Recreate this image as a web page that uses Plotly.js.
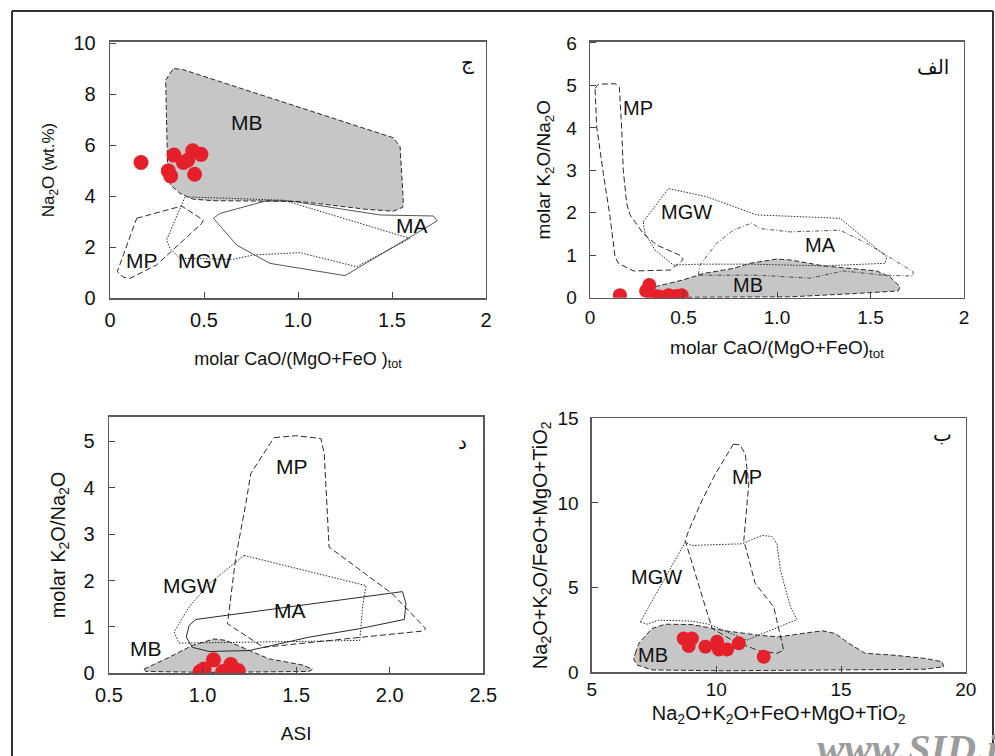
<!DOCTYPE html>
<html>
<head>
<meta charset="utf-8">
<script src="https://cdn.plot.ly/plotly-3.0.1.min.js"></script>
<style>html,body{margin:0;padding:0;background:#fff;}#chart{width:995px;height:756px;}</style>
</head>
<body>
<div id="chart"></div>
<script>
// ---------- Panel ج (top-left): Na2O vs molar CaO/(MgO+FeO)tot ----------
const p1_MB_x = [0.296,0.337,0.386,1.507,1.543,1.56,1.557,1.507,1.365,1.01,0.55,0.443,0.372,0.323,0.307,0.302];
const p1_MB_y = [8.56,9.02,8.98,6.30,5.95,3.85,3.57,3.42,3.49,3.80,3.83,3.89,4.12,4.44,4.90,6.47];
const p1_MP_x = [0.142,0.381,0.496,0.488,0.248,0.106,0.071,0.039];
const p1_MP_y = [3.14,3.62,3.07,2.94,1.31,0.78,0.83,1.05];
const p1_MGW_x = [0.399,0.301,0.319,0.372,0.656,0.761,1.011,1.312,1.596,0.922];
const p1_MGW_y = [3.98,2.29,1.96,1.57,1.53,1.70,1.79,1.24,2.35,3.85];
const p1_MA_x = [0.55,0.585,0.833,0.957,1.436,1.72,1.741,1.25,0.851,0.674];
const p1_MA_y = [3.14,3.33,3.83,3.82,3.27,3.23,3.04,0.89,1.37,2.09];
const p1_pts_x = [0.165,0.34,0.44,0.484,0.39,0.413,0.31,0.323,0.45];
const p1_pts_y = [5.33,5.62,5.79,5.65,5.33,5.42,5.0,4.8,4.87];

// ---------- Panel الف (top-right): molar K2O/Na2O vs molar CaO/(MgO+FeO)tot ----------
const p2_MP_x = [0.027,0.045,0.134,0.157,0.169,0.178,0.196,0.214,0.285,0.357,0.481,0.499,0.464,0.428,0.232,0.152,0.134,0.107,0.071,0.036];
const p2_MP_y = [4.93,5.03,5.04,4.96,4.02,3.0,2.22,1.95,1.51,1.24,1.0,0.90,0.77,0.65,0.63,0.81,0.96,1.91,2.93,4.02];
const p2_MGW_x = [0.285,0.419,0.624,0.891,1.337,1.587,1.578,1.248,0.856,0.588,0.446,0.348,0.294];
const p2_MGW_y = [1.79,2.57,2.38,1.95,1.87,0.96,0.81,0.75,0.79,0.79,0.77,1.12,1.51];
const p2_MA_x = [0.579,0.588,0.677,0.766,0.865,0.909,1.07,1.337,1.48,1.729,1.726,1.568,1.355,1.176,0.891,0.606];
const p2_MA_y = [0.53,0.77,1.28,1.59,1.76,1.63,1.55,1.59,1.28,0.61,0.51,0.53,0.63,0.46,0.53,0.53];
const p2_MB_x = [0.348,0.499,0.606,0.766,0.856,0.998,1.07,1.248,1.533,1.604,1.658,1.649,1.426,1.07,0.535,0.357,0.339];
const p2_MB_y = [0.26,0.42,0.57,0.69,0.81,0.91,0.89,0.75,0.63,0.49,0.26,0.16,0.10,0.02,0.01,0.01,0.14];
const p2_pts_x = [0.16,0.317,0.30,0.34,0.37,0.42,0.46,0.49];
const p2_pts_y = [0.06,0.30,0.16,0.05,0.03,0.06,0.04,0.06];

// ---------- Panel د (bottom-left): molar K2O/Na2O vs ASI ----------
const p3_MP_x = [1.382,1.498,1.632,1.65,1.676,2.015,2.193,2.175,1.855,1.57,1.325,1.133,1.178,1.231,1.258];
const p3_MP_y = [5.08,5.12,5.06,4.74,2.72,1.71,0.96,0.91,0.78,0.67,0.56,1.07,2.51,3.66,4.31];
const p3_MGW_x = [1.222,1.873,1.855,1.84,1.57,1.035,0.874,0.848,0.928,1.035];
const p3_MGW_y = [2.54,1.89,1.43,0.71,0.69,0.67,0.65,0.89,1.43,1.93];
const p3_MA_x = [0.964,2.068,2.087,2.078,1.837,1.57,1.249,1.035,0.945,0.913,0.928];
const p3_MA_y = [1.16,1.76,1.50,1.16,0.96,0.78,0.49,0.47,0.56,0.78,1.03];
const p3_MB_x = [0.687,0.803,0.945,1.061,1.124,1.249,1.356,1.534,1.587,1.57,1.035,0.696];
const p3_MB_y = [0.09,0.31,0.60,0.74,0.71,0.49,0.31,0.18,0.09,0.04,0.02,0.04];
const p3_pts_x = [1.058,0.987,1.008,1.108,1.151,1.156,1.19];
const p3_pts_y = [0.29,0.04,0.09,0.04,0.19,0.04,0.06];

// ---------- Panel ب (bottom-right) ----------
const p4_MP_x = [10.68,10.95,11.16,11.30,11.1,11.56,12.3,12.7,12.43,11.7,10.63,9.83,9.56,8.75,8.89,9.42,9.96];
const p4_MP_y = [13.47,13.43,12.88,11.12,7.78,5.24,3.86,1.31,1.12,1.27,1.90,2.59,3.86,7.78,8.37,10.14,11.71];
const p4_MGW_x = [6.95,8.75,9.02,11.03,11.83,12.23,12.43,12.57,12.97,13.24,11.22,9.69,9.02,7.69,7.22];
const p4_MGW_y = [2.98,7.68,7.49,7.59,8.08,8.02,7.59,6.02,3.86,3.12,1.90,2.84,3.02,3.08,2.84];
const p4_MB_x = [6.75,6.89,7.42,7.95,9.02,10.36,11.7,12.5,13.44,14.24,14.77,15.31,15.97,17.04,18.38,19.05,19.12,18.38,10.36,7.42,6.82,6.68];
const p4_MB_y = [1.12,1.71,2.59,2.84,2.82,2.45,2.19,2.09,2.29,2.45,2.29,1.71,1.12,1.02,0.82,0.62,0.33,0.18,0.09,0.14,0.43,0.78];
const p4_pts_x = [8.69,9.02,8.89,9.56,10.03,10.1,10.43,10.9,11.9];
const p4_pts_y = [2.0,2.0,1.55,1.51,1.80,1.35,1.35,1.71,0.92];

// tick labels
const p1_xtv = [0,0.5,1,1.5,2], p1_xtt = ['0','0.5','1.0','1.5','2'];
const p1_ytv = [0,2,4,6,8,10];
const p2_xtv = [0,0.5,1,1.5,2], p2_xtt = ['0','0.5','1.0','1.5','2'];
const p2_ytv = [0,1,2,3,4,5,6];
const p3_xtv = [0.5,1,1.5,2,2.5], p3_xtt = ['0.5','1.0','1.5','2.0','2.5'];
const p3_ytv = [0,1,2,3,4,5];
const p4_xtv = [5,10,15,20];
const p4_ytv = [0,5,10,15];

const RED = '#e5202a', GREY = '#c6c6c6', LINE = '#2a2a2a';
const FONT = 'Liberation Sans, Arial, sans-serif';

function poly(x, y, ax, dash, fill, width) {
  return {
    type: 'scatter', mode: 'lines',
    x: x.concat([x[0]]), y: y.concat([y[0]]),
    xaxis: 'x' + ax, yaxis: 'y' + ax,
    fill: fill ? 'toself' : 'none', fillcolor: GREY,
    line: {color: LINE, width: width || 1, dash: dash},
    hoverinfo: 'skip', showlegend: false
  };
}
function pts(x, y, ax, size) {
  return {type: 'scatter', mode: 'markers', x: x, y: y, xaxis: 'x' + ax, yaxis: 'y' + ax,
    marker: {color: RED, size: size, line: {width: 0}}, showlegend: false};
}
const DASH_MB = '5px,2.5px', DASH_MP = '6px,3px', DOT = '1.5px,1.5px';

const traces = [
  poly(p1_MB_x, p1_MB_y, '', DASH_MB, true),
  poly(p1_MP_x, p1_MP_y, '', DASH_MP, false),
  poly(p1_MGW_x, p1_MGW_y, '', DOT, false),
  poly(p1_MA_x, p1_MA_y, '', 'solid', false, 0.8),
  pts(p1_pts_x, p1_pts_y, '', 15),

  poly(p2_MB_x, p2_MB_y, '2', DASH_MB, true),
  poly(p2_MP_x, p2_MP_y, '2', DASH_MP, false),
  poly(p2_MGW_x, p2_MGW_y, '2', DOT, false),
  poly(p2_MA_x, p2_MA_y, '2', '4px,2px,1px,2px', false, 0.8),
  pts(p2_pts_x, p2_pts_y, '2', 14),

  poly(p3_MB_x, p3_MB_y, '3', DASH_MB, true),
  poly(p3_MP_x, p3_MP_y, '3', DASH_MP, false),
  poly(p3_MGW_x, p3_MGW_y, '3', DOT, false),
  poly(p3_MA_x, p3_MA_y, '3', 'solid', false, 1),
  pts(p3_pts_x, p3_pts_y, '3', 15),

  poly(p4_MB_x, p4_MB_y, '4', DASH_MB, true),
  poly(p4_MP_x, p4_MP_y, '4', DASH_MP, false),
  poly(p4_MGW_x, p4_MGW_y, '4', DOT, false),
  pts(p4_pts_x, p4_pts_y, '4', 14)
];

const W = 995, H = 756;
function dx(a, b) { return [a / W, b / W]; }
function dy(top, bot) { return [1 - bot / H, 1 - top / H]; }

function axBase(extra) {
  return Object.assign({
    showline: true, mirror: true, linecolor: '#5a5a5a', linewidth: 1.3,
    ticks: 'inside', ticklen: 6, tickcolor: '#444', tickwidth: 1,
    showgrid: false, zeroline: false, fixedrange: true,
    tickfont: {family: FONT, size: 19, color: '#111'}
  }, extra);
}
function ttl(text, size, standoff) {
  return {text: text, font: {family: FONT, size: size, color: '#111'}, standoff: standoff};
}

const layout = {
  width: W, height: H,
  margin: {l: 0, r: 0, t: 0, b: 0},
  paper_bgcolor: '#fff', plot_bgcolor: '#fff',
  showlegend: false,
  xaxis: axBase({domain: dx(110, 486), range: [0, 2], tickmode: 'array', tickvals: p1_xtv, ticktext: p1_xtt, anchor: 'y',
    tickfont: {family: FONT, size: 20, color: '#111'}, ticklabelstandoff: 3,
    title: ttl('molar CaO/(MgO+FeO )<sub>tot</sub>', 18, 22)}),
  yaxis: axBase({domain: dy(41.7, 298.3), range: [0, 10.07], tickmode: 'array', tickvals: p1_ytv, anchor: 'x',
    tickfont: {family: FONT, size: 20, color: '#111'}, ticklabelstandoff: 9,
    title: ttl('Na<sub>2</sub>O (wt.%)', 17, 14)}),

  xaxis2: axBase({domain: dx(590, 964), range: [0, 2], tickmode: 'array', tickvals: p2_xtv, ticktext: p2_xtt, anchor: 'y2',
    ticklabelstandoff: 2,
    title: ttl('molar CaO/(MgO+FeO)<sub>tot</sub>', 19, 14)}),
  yaxis2: axBase({domain: dy(41.7, 297.7), range: [0, 6.03], tickmode: 'array', tickvals: p2_ytv, anchor: 'x2',
    ticklabelstandoff: 8,
    title: ttl('molar K<sub>2</sub>O/Na<sub>2</sub>O', 19, 10)}),

  xaxis3: axBase({domain: dx(109, 483.3), range: [0.5, 2.5], tickmode: 'array', tickvals: p3_xtv, ticktext: p3_xtt, anchor: 'y3',
    tickfont: {family: FONT, size: 20, color: '#111'}, ticklabelstandoff: 3,
    title: ttl('ASI', 19, 22)}),
  yaxis3: axBase({domain: dy(416.7, 673.3), range: [0, 5.53], tickmode: 'array', tickvals: p3_ytv, anchor: 'x3',
    tickfont: {family: FONT, size: 20, color: '#111'}, ticklabelstandoff: 9,
    title: ttl('molar K<sub>2</sub>O/Na<sub>2</sub>O', 20, 12)}),

  xaxis4: axBase({domain: dx(591.7, 965.7), range: [5, 20], tickmode: 'array', tickvals: p4_xtv, anchor: 'y4',
    title: ttl('Na<sub>2</sub>O+K<sub>2</sub>O+FeO+MgO+TiO<sub>2</sub>', 20, 6)}),
  yaxis4: axBase({domain: dy(418.3, 672.3), range: [0, 15], tickmode: 'array', tickvals: p4_ytv, anchor: 'x4',
    ticklabelstandoff: 8,
    title: ttl('Na<sub>2</sub>O+K<sub>2</sub>O/FeO+MgO+TiO<sub>2</sub>', 20, 4)}),

  annotations: [
    // panel ج
    {xref: 'x', yref: 'y', x: 0.727, y: 6.9, text: 'MB', size: 21},
    {xref: 'x', yref: 'y', x: 0.168, y: 1.5, text: 'MP', size: 21},
    {xref: 'x', yref: 'y', x: 0.505, y: 1.47, text: 'MGW', size: 21},
    {xref: 'x', yref: 'y', x: 1.605, y: 2.87, text: 'MA', size: 21},
    {xref: 'x', yref: 'y', x: 1.904, y: 9.27, text: 'ج', font: {family: 'DejaVu Sans', size: 20, color: '#111'}},
    // panel الف
    {xref: 'x2', yref: 'y2', x: 0.258, y: 4.48, text: 'MP', size: 20},
    {xref: 'x2', yref: 'y2', x: 0.517, y: 2.02, text: 'MGW', size: 20},
    {xref: 'x2', yref: 'y2', x: 1.23, y: 1.24, text: 'MA', size: 20},
    {xref: 'x2', yref: 'y2', x: 0.847, y: 0.30, text: 'MB', size: 20},
    {xref: 'x2', yref: 'y2', x: 1.834, y: 5.43, text: 'الف', font: {family: 'DejaVu Sans', size: 20, color: '#111'}},
    // panel د
    {xref: 'x3', yref: 'y3', x: 1.477, y: 4.45, text: 'MP', size: 21},
    {xref: 'x3', yref: 'y3', x: 0.933, y: 1.89, text: 'MGW', size: 21},
    {xref: 'x3', yref: 'y3', x: 1.468, y: 1.35, text: 'MA', size: 21},
    {xref: 'x3', yref: 'y3', x: 0.696, y: 0.53, text: 'MB', size: 21},
    {xref: 'x3', yref: 'y3', x: 2.388, y: 4.98, text: 'د', font: {family: 'DejaVu Sans', size: 20, color: '#111'}},
    // panel ب
    {xref: 'x4', yref: 'y4', x: 11.22, y: 11.55, text: 'MP', size: 20},
    {xref: 'x4', yref: 'y4', x: 7.6, y: 5.62, text: 'MGW', size: 20},
    {xref: 'x4', yref: 'y4', x: 7.45, y: 1.02, text: 'MB', size: 20},
    {xref: 'x4', yref: 'y4', x: 19.08, y: 14.08, text: 'ب', font: {family: 'DejaVu Sans', size: 20, color: '#111'}},
    // watermark
    {xref: 'paper', yref: 'paper', x: 815 / W, y: 1 - 723 / H, xanchor: 'left', yanchor: 'top',
      text: 'www.SID.ir', font: {family: 'Liberation Serif', size: 41, color: '#9c9c9c', weight: 'bold', style: 'italic'}}
  ].map(a => Object.assign({showarrow: false,
      font: {family: FONT, size: a.size || 20, color: '#111'}}, a)),

  shapes: [
    {type: 'line', xref: 'paper', yref: 'paper', x0: 12 / W, x1: 993 / W, y0: 1 - 11 / H, y1: 1 - 11 / H, line: {color: '#333', width: 2}},
    {type: 'line', xref: 'paper', yref: 'paper', x0: 12 / W, x1: 12 / W, y0: 1 - 11 / H, y1: 0, line: {color: '#333', width: 2}},
    {type: 'line', xref: 'paper', yref: 'paper', x0: 993 / W, x1: 993 / W, y0: 1 - 11 / H, y1: 0, line: {color: '#333', width: 2}}
  ]
};
layout.annotations.forEach(a => { delete a.size; });

Plotly.newPlot('chart', traces, layout, {staticPlot: true, displayModeBar: false});
</script>
</body>
</html>
